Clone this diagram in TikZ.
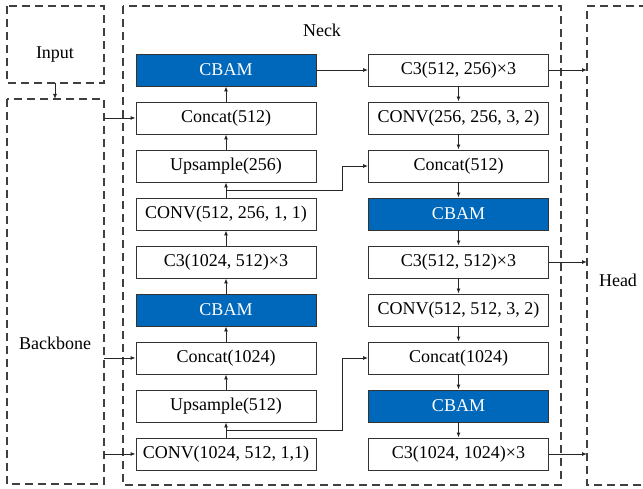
\documentclass[tikz,border=0pt]{standalone}
\usepackage{fontspec}
\setmainfont{Liberation Serif}
\usetikzlibrary{arrows.meta}
\definecolor{cbamblue}{RGB}{0,104,186}
\begin{document}
\begin{tikzpicture}[x=1pt,y=-1pt,
  blk/.style={draw=black!80,line width=0.9pt,minimum width=180pt,minimum height=32pt,inner sep=0pt,font=\fontsize{18}{20}\selectfont,fill=white},
  cbam/.style={blk,fill=cbamblue,text=white},
  grp/.style={draw=black!75,line width=1.1pt,dash pattern=on 8pt off 5pt},
  arr/.style={draw=black!85,line width=0.9pt,-{Latex[length=5pt,width=4pt]}},
  lbl/.style={font=\fontsize{18}{20}\selectfont}]
\useasboundingbox (0,0) rectangle (643,489);
\clip (0,0) rectangle (643,489);
% groups
\draw[grp] (7,6) rectangle (104,83);
\draw[grp] (7,99) rectangle (104,484);
\draw[grp] (123,6) rectangle (561,485);
\draw[grp] (660,6) -- (587,6) -- (587,485) -- (660,485);
\node[lbl] (lin) at (55,55) {Input};
\node[lbl] (lbb) at (55,343) {Backbone};
\node[lbl] (lnk) at (322,30) {Neck};
\node[lbl] (lhd) at (618,280) {Head};
\coordinate (inbot) at (55,83);
\coordinate (bbtop) at (55,99);
\draw[arr] (inbot) -- (bbtop);
% left column
\node[cbam] (l1) at (226,70) {CBAM};
\node[blk] (l2) at (226,118) {Concat(512)};
\node[blk] (l3) at (226,166) {Upsample(256)};
\node[blk] (l4) at (226,214) {CONV(512, 256, 1, 1)};
\node[blk] (l5) at (226,262) {C3(1024, 512)×3};
\node[cbam] (l6) at (226,310) {CBAM};
\node[blk] (l7) at (226,358) {Concat(1024)};
\node[blk] (l8) at (226,406) {Upsample(512)};
\node[blk] (l9) at (226,454) {CONV(1024, 512, 1,1)};
% right column
\node[blk] (r1) at (458.5,70) {C3(512, 256)×3};
\node[blk] (r2) at (458.5,118) {CONV(256, 256, 3, 2)};
\node[blk] (r3) at (458.5,166) {Concat(512)};
\node[cbam] (r4) at (458.5,214) {CBAM};
\node[blk] (r5) at (458.5,262) {C3(512, 512)×3};
\node[blk] (r6) at (458.5,310) {CONV(512, 512, 3, 2)};
\node[blk] (r7) at (458.5,358) {Concat(1024)};
\node[cbam] (r8) at (458.5,406) {CBAM};
\node[blk] (r9) at (458.5,454) {C3(1024, 1024)×3};
% vertical arrows
\foreach \a/\b in {l2/l1,l3/l2,l4/l3,l5/l4,l6/l5,l7/l6,l8/l7,l9/l8}
  \draw[arr] (\a.north) -- (\b.south);
\foreach \a/\b in {r1/r2,r2/r3,r3/r4,r4/r5,r5/r6,r6/r7,r7/r8,r8/r9}
  \draw[arr] (\a.south) -- (\b.north);
% horizontal
\draw[arr] (l1.east) -- (r1.west);
\coordinate (h1) at (587,70);
\coordinate (h2) at (587,262);
\coordinate (h3) at (587,454);
\draw[arr] (r1.east) -- (h1);
\draw[arr] (r5.east) -- (h2);
\draw[arr] (r9.east) -- (h3);
% backbone feeds
\coordinate (b1) at (104,118);
\coordinate (b2) at (104,358);
\coordinate (b3) at (104,454);
\draw[arr] (b1) -- (l2.west);
\draw[arr] (b2) -- (l7.west);
\draw[arr] (b3) -- (l9.west);
% skip links
\coordinate (j1) at (226,190);
\coordinate (k1) at (342,190);
\draw[arr] (j1) -- (k1) |- (r3.west);
\coordinate (j2) at (226,430);
\coordinate (k2) at (342,430);
\draw[arr] (j2) -- (k2) |- (r7.west);
\end{tikzpicture}
\end{document}
